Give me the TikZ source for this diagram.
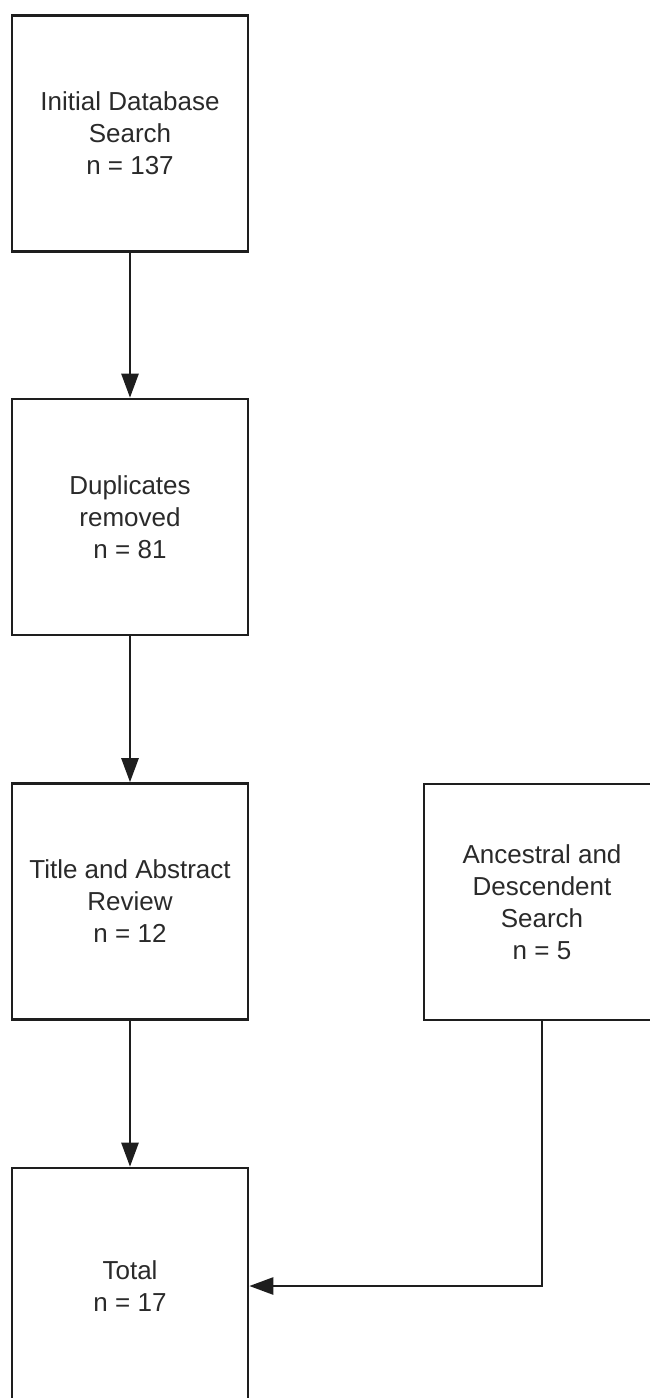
\documentclass[tikz,border=0pt]{standalone}
\usepackage{fontspec}
\setmainfont{Liberation Sans}
\usetikzlibrary{arrows.meta}
\definecolor{linec}{HTML}{1E1E1E}
\definecolor{textc}{HTML}{2A2A2A}
\begin{document}
\begin{tikzpicture}[x=1pt,y=-1pt,
  stepbox/.style={draw=linec, line width=2.6pt, minimum width=236pt, minimum height=236pt,
    inner sep=0pt, align=center, text=textc, font=\fontsize{26}{32}\selectfont},
  conn/.style={draw=linec, line width=2.6pt, -{Triangle[length=24pt,width=17pt]}}]
\useasboundingbox (0,0) rectangle (650,1398);
\clip (0,0) rectangle (650,1398);
\node[stepbox] (b1) at (130,133.5) {Initial Database\\Search\\n = 137};
\node[stepbox] (b2) at (130,517) {Duplicates\\removed\\n = 81};
\node[stepbox] (b3) at (130,901.5) {Title and Abstract\\Review\\n = 12};
\node[stepbox] (b4) at (130,1286) {Total\\n = 17};
\node[stepbox] (b5) at (542,902) {Ancestral and\\Descendent\\Search\\n = 5};
\draw[conn] (b1.south) -- (b2.north);
\draw[conn] (b2.south) -- (b3.north);
\draw[conn] (b3.south) -- (b4.north);
\draw[conn] (b5.south) |- (b4.east);
\end{tikzpicture}
\end{document}
